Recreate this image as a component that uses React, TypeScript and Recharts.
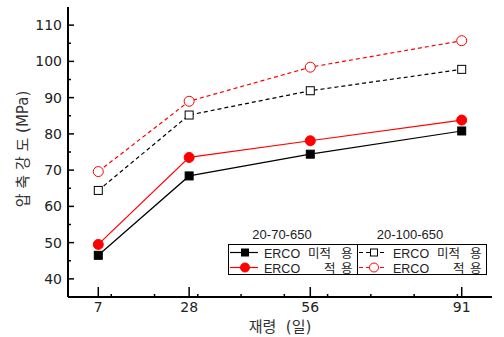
import React from "react";
import { LineChart, Line, XAxis, YAxis } from "recharts";

// 재령 (일)
const AGES = [7, 28, 56, 91];
// 압축강도 (MPa)
const NO_ERCO_70 = [46.5, 68.4, 74.4, 80.8];
const ERCO_70 = [49.5, 73.5, 78.1, 83.8];
const NO_ERCO_100 = [64.4, 85.2, 91.9, 97.8];
const ERCO_100 = [69.6, 89.0, 98.4, 105.7];

const X_MINOR = [10, 20, 30, 40, 50, 60, 70, 80, 90];
const X_TICKS = [...AGES, ...X_MINOR].sort((a, b) => a - b);
const Y_TICKS = [40, 45, 50, 55, 60, 65, 70, 75, 80, 85, 90, 95, 100, 105, 110];
const GROUPS = ["20-70-650", "20-100-650"];

const FONT = '"DejaVu Sans", "Noto Sans CJK KR", sans-serif';
const LEG_FONT = '"Liberation Sans", Arial, "Noto Sans CJK KR", sans-serif';
const RED = "#ff0000";

const data = AGES.map((age, i) => ({
  age,
  noErco70: NO_ERCO_70[i],
  erco70: ERCO_70[i],
  noErco100: NO_ERCO_100[i],
  erco100: ERCO_100[i],
}));

const BottomTick = (props: any) => {
  const { x, y, payload } = props;
  const major = AGES.includes(payload.value);
  return (
    <g>
      <line x1={x} x2={x} y1={y} y2={y - (major ? 10 : 3)} stroke="#000" strokeWidth={1.5} />
      {major && (
        <text x={x} y={y + 15} textAnchor="middle" fontSize={14} fontFamily={FONT} fill="#222">
          {payload.value}
        </text>
      )}
    </g>
  );
};

const TopTick = (props: any) => {
  const { x, y } = props;
  return <line x1={x} x2={x} y1={y} y2={y + 3} stroke="#000" strokeWidth={1.5} />;
};

const LeftTick = (props: any) => {
  const { x, y, payload } = props;
  const major = payload.value % 10 === 0;
  return (
    <g>
      <line x1={x} x2={x + (major ? 6 : 3)} y1={y} y2={y} stroke="#000" strokeWidth={1.5} />
      {major && (
        <text x={x - 6} y={y + 5} textAnchor="end" fontSize={14} fontFamily={FONT} fill="#222">
          {payload.value}
        </text>
      )}
    </g>
  );
};

const RightTick = (props: any) => {
  const { x, y } = props;
  return <line x1={x} x2={x - 3} y1={y} y2={y} stroke="#000" strokeWidth={1.5} />;
};

const square = (filled: boolean) => (p: any) =>
  <rect key={`s-${p.index}`} x={p.cx - 4} y={p.cy - 4} width={8} height={8}
    fill={filled ? "#000" : "#fff"} stroke="#000" strokeWidth={1} />;

const circle = (filled: boolean) => (p: any) =>
  <circle key={`c-${p.index}`} cx={p.cx} cy={p.cy} r={5}
    fill={filled ? RED : "#fff"} stroke={RED} strokeWidth={1} />;

const YLabel = (p: any) => {
  const vb = p.viewBox;
  const cx = vb.x + 23;
  const cy = vb.y + vb.height / 2 - 3;
  return (
    <text x={cx} y={cy} transform={`rotate(-90, ${cx}, ${cy})`} textAnchor="middle"
      dominantBaseline="central" fontSize={15} fontFamily={FONT} fill="#333"
      style={{ whiteSpace: "pre" }}>
      압 축 강 도 (MPa)
    </text>
  );
};

const XLabel = (p: any) => {
  const vb = p.viewBox;
  return (
    <text x={vb.x + vb.width / 2} y={vb.y + 35} textAnchor="middle" fontSize={15}
      fontFamily={FONT} fill="#333" style={{ whiteSpace: "pre" }}>
      재령  (일)
    </text>
  );
};

const LegendBox = () => {
  const rows = [252.5, 267.5];
  const cols = [0, 129];
  return (
    <svg width={504} height={337} style={{ position: "absolute", left: 0, top: 0, pointerEvents: "none" }}>
      <text x={282} y={239} textAnchor="middle" fontSize={13} fontFamily={LEG_FONT} fill="#222">{GROUPS[0]}</text>
      <text x={410} y={239} textAnchor="middle" fontSize={13} fontFamily={LEG_FONT} fill="#222">{GROUPS[1]}</text>
      <rect x={228.5} y={244.5} width={258} height={30} fill="#fff" stroke="#000" strokeWidth={1} />
      <line x1={357.5} x2={357.5} y1={244.5} y2={274.5} stroke="#000" strokeWidth={1} />
      {cols.map((dx, ci) =>
        rows.map((ry, ri) => {
          const color = ri === 0 ? "#000" : RED;
          const dashed = ci === 1;
          const mx = 245 + dx;
          return (
            <g key={`${ci}-${ri}`}>
              <line x1={230 + dx} x2={258 + dx} y1={ry} y2={ry} stroke={color} strokeWidth={1.2}
                strokeDasharray={dashed ? "4 3" : undefined} />
              {ri === 0 ? (
                <rect x={mx - 3.5} y={ry - 3.5} width={7} height={7} fill={dashed ? "#fff" : "#000"} stroke="#000" />
              ) : (
                <circle cx={mx} cy={ry} r={4.5} fill={dashed ? "#fff" : RED} stroke={RED} />
              )}
              <text y={ry + 5} fontSize={12.5} fontFamily={LEG_FONT} fill="#222">
                <tspan x={264 + dx}>ERCO</tspan>
                {ri === 0 ? <tspan x={308 + dx}>미적</tspan> : <tspan x={324 + dx}>적</tspan>}
                <tspan x={341 + dx}>용</tspan>
              </text>
            </g>
          );
        })
      )}
    </svg>
  );
};

export default function App() {
  return (
    <div style={{ position: "absolute", left: 0, top: 0, width: 504, height: 337, background: "#fff" }}>
      <LineChart width={504} height={337} data={data} margin={{ top: 7, right: 12, bottom: 0, left: 0 }}>
        <XAxis xAxisId="top" orientation="top" dataKey="age" type="number" domain={[0, 98]}
          ticks={X_MINOR} interval={0} height={0} tickSize={0} tickMargin={0}
          axisLine={{ stroke: "#000", strokeWidth: 2 }} tickLine={false} tick={<TopTick />} />
        <XAxis xAxisId="bottom" dataKey="age" type="number" domain={[0, 98]}
          ticks={X_TICKS} interval={0} height={40} tickSize={0} tickMargin={0}
          axisLine={{ stroke: "#000", strokeWidth: 2 }} tickLine={false} tick={<BottomTick />}
          label={{ content: XLabel }} />
        <YAxis yAxisId="left" type="number" domain={[35, 115]} ticks={Y_TICKS} interval={0}
          width={68} tickSize={0} tickMargin={0}
          axisLine={{ stroke: "#000", strokeWidth: 2 }} tickLine={false} tick={<LeftTick />}
          label={{ content: YLabel }} />
        <YAxis yAxisId="right" orientation="right" type="number" domain={[35, 115]} ticks={Y_TICKS}
          interval={0} width={0} tickSize={0} tickMargin={0}
          axisLine={{ stroke: "#000", strokeWidth: 2 }} tickLine={false} tick={<RightTick />} />
        <Line xAxisId="bottom" yAxisId="left" dataKey="noErco100" stroke="#000" strokeWidth={1.2}
          strokeDasharray="4 3" dot={square(false)} isAnimationActive={false} />
        <Line xAxisId="bottom" yAxisId="left" dataKey="erco100" stroke={RED} strokeWidth={1.2}
          strokeDasharray="4 3" dot={circle(false)} isAnimationActive={false} />
        <Line xAxisId="bottom" yAxisId="left" dataKey="noErco70" stroke="#000" strokeWidth={1.2}
          dot={square(true)} isAnimationActive={false} />
        <Line xAxisId="bottom" yAxisId="left" dataKey="erco70" stroke={RED} strokeWidth={1.2}
          dot={circle(true)} isAnimationActive={false} />
      </LineChart>
      <LegendBox />
    </div>
  );
}
